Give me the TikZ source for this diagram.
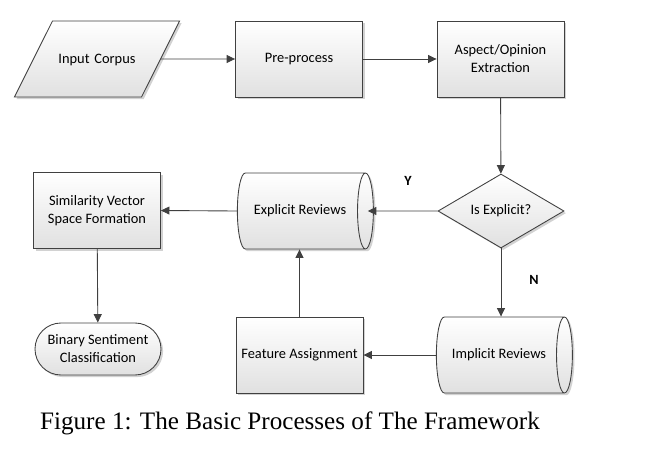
\documentclass[tikz,border=0pt]{standalone}
\usepackage{fontspec}
\setmainfont{Liberation Serif}
\newfontfamily\boxfont{Carlito}
\usetikzlibrary{arrows.meta,shapes.geometric,shadows}

\tikzset{
  boxnode/.style={draw=black!75, top color=white, bottom color=black!12,
    drop shadow={shadow xshift=1.2pt, shadow yshift=-1.2pt, fill=black!35},
    font=\boxfont\fontsize{8.2}{10.2}\selectfont, align=center, inner sep=1pt},
  procbox/.style={boxnode, rectangle, minimum width=2.54cm, minimum height=1.52cm},
  inputbox/.style={boxnode, trapezium, trapezium left angle=63.4, trapezium right angle=116.6,
    inner sep=0pt, text width=1.78cm, text height=0.86cm, text depth=0.66cm},
  storebox/.style={boxnode, cylinder, shape aspect=1, minimum width=1.52cm, minimum height=2.72cm,
    cylinder uses custom fill, cylinder body fill=black!5, cylinder end fill=black!5},
  decbox/.style={boxnode, diamond, aspect=1.7, inner sep=0pt, minimum width=2.52cm, minimum height=1.48cm},
  endbox/.style={boxnode, rectangle, rounded corners=0.52cm, minimum width=2.52cm, minimum height=1.04cm},
  lbl/.style={font=\boxfont\bfseries\fontsize{8}{10}\selectfont}
}

\begin{document}
\begin{tikzpicture}[>={Triangle[length=1.7mm,width=1.6mm]}, line width=0.5pt, draw=black!75]
	\useasboundingbox (0,0) rectangle (13.08,-9.24);

	\node[inputbox] (corpus) at (1.94,-1.18) {Input Corpus};
	\node[procbox] (pre) at (5.98,-1.18) {Pre-process};
	\node[procbox] (aspect) at (10.01,-1.18) {Aspect/Opinion\\Extraction};

	\node[decbox] (isexpl) at (10.02,-4.22) {Is Explicit?};
	\node[storebox] (expl) at (6.0,-4.22) {Explicit Reviews};
	\node[procbox] (simvec) at (1.94,-4.21) {Similarity Vector\\Space Formation};

	\node[endbox] (binary) at (1.96,-6.98) {Binary Sentiment\\Classification};
	\node[procbox] (feat) at (5.99,-7.10) {Feature Assignment};
	\node[storebox] (impl) at (9.98,-7.10) {Implicit Reviews};

	\node[lbl] (ylbl) at (8.16,-3.62) {Y};
	\node[lbl] (nlbl) at (10.68,-5.60) {N};

	% arrows
	\draw[->] (corpus) -- (pre);
	\draw[->] (pre) -- (aspect);
	\draw[->] (aspect) -- (isexpl);
	\draw[->] (isexpl.west) -- ([xshift=-0.12cm]expl.east);
	\draw[->] (isexpl.south) -- (isexpl.south |- impl.north);
	\draw[->] (impl.west) -- (feat.east);
	\draw[->] (feat.north) -- (feat.north |- expl.south);
	\draw[->] (expl.west) -- (simvec.east);
	\draw[->] (simvec) -- (binary);

	\node[font=\fontsize{14.3}{17}\selectfont] (caption) at (5.8,-8.47) {Figure 1: The Basic Processes of The Framework};
\end{tikzpicture}
\end{document}
